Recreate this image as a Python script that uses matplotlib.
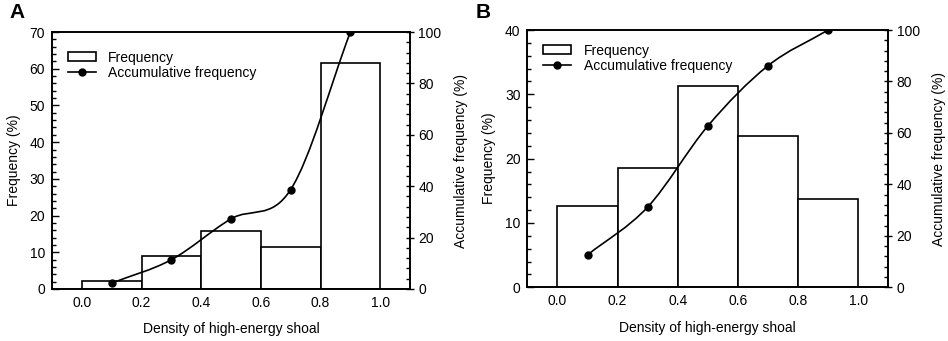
import numpy as np
import matplotlib
matplotlib.use("Agg")
import matplotlib.pyplot as plt
from matplotlib.path import Path
from matplotlib.patches import PathPatch, Rectangle
from matplotlib.lines import Line2D
from matplotlib.ticker import MultipleLocator

plt.rcParams['font.family'] = ['Liberation Sans', 'DejaVu Sans']

# bin edges and centres
bin_left = [0.0, 0.2, 0.4, 0.6, 0.8]
bin_mid = [0.1, 0.3, 0.5, 0.7, 0.9]

# panel A
freq_a = [2.2, 9.1, 15.9, 11.4, 61.5]
cum_a = [2.3, 11.4, 27.3, 38.7, 100.0]
# panel B
freq_b = [12.7, 18.6, 31.3, 23.5, 13.7]
cum_b = [12.6, 31.2, 62.7, 86.1, 100.0]

xlabel = 'Density of high-energy shoal'
ylabel_l = 'Frequency (%)'
ylabel_r = 'Accumulative frequency (%)'
FS = 10


def smooth_path(x, y):
    """Catmull-Rom style bezier through the points."""
    x = np.asarray(x, float)
    y = np.asarray(y, float)
    n = len(x)
    m = np.zeros(n)
    for i in range(n):
        if i == 0:
            m[i] = (y[1] - y[0]) / (x[1] - x[0])
        elif i == n - 1:
            m[i] = (y[-1] - y[-2]) / (x[-1] - x[-2])
        else:
            m[i] = (y[i + 1] - y[i - 1]) / (x[i + 1] - x[i - 1])
    verts = [(x[0], y[0])]
    codes = [Path.MOVETO]
    for i in range(n - 1):
        h = x[i + 1] - x[i]
        verts += [(x[i] + h / 3, y[i] + m[i] * h / 3),
                  (x[i + 1] - h / 3, y[i + 1] - m[i + 1] * h / 3),
                  (x[i + 1], y[i + 1])]
        codes += [Path.CURVE4] * 3
    return Path(verts, codes)


def panel(rect, freq, cum, ymax, ymajor, letter, letter_x, leg_y):
    ax = fig.add_axes(rect)
    ax.bar(bin_left, freq, width=0.2, align='edge', facecolor='white',
           edgecolor='black', linewidth=1.2, zorder=2)
    ax.set_xlim(-0.1, 1.1)
    ax.set_ylim(0, ymax)
    ax.set_xticks([0.0, 0.2, 0.4, 0.6, 0.8, 1.0])
    ax.set_xticklabels(['0.0', '0.2', '0.4', '0.6', '0.8', '1.0'])
    ax.yaxis.set_major_locator(MultipleLocator(ymajor))
    ax.yaxis.set_minor_locator(MultipleLocator(2))
    ax.tick_params(axis='x', length=0, pad=5, labelsize=FS)
    ax.tick_params(axis='y', which='major', direction='in', length=5,
                   width=1, labelsize=FS, pad=5)
    ax.tick_params(axis='y', which='minor', direction='in', length=3, width=1)
    for s in ax.spines.values():
        s.set_linewidth(1.2)
    ax.set_xlabel(xlabel, fontsize=FS, labelpad=9)
    ax.set_ylabel(ylabel_l, fontsize=FS, labelpad=6)

    ax2 = ax.twinx()
    ax2.set_ylim(0, 100)
    ax2.yaxis.set_major_locator(MultipleLocator(20))
    ax2.yaxis.set_minor_locator(MultipleLocator(4))
    ax2.tick_params(axis='y', which='major', direction='inout', length=6,
                    width=1, labelsize=FS, pad=3)
    ax2.tick_params(axis='y', which='minor', direction='in', length=3, width=1)
    ax2.set_ylabel(ylabel_r, fontsize=FS, labelpad=9)
    ax2.add_patch(PathPatch(smooth_path(bin_mid, cum), facecolor='none',
                            edgecolor='black', linewidth=1.2, zorder=3))
    ax2.plot(bin_mid, cum, 'o', color='black', markersize=5, zorder=4)
    for s in ax2.spines.values():
        s.set_linewidth(1.2)

    handles = [Rectangle((0, 0), 1, 1, facecolor='white', edgecolor='black',
                         linewidth=1.2),
               Line2D([], [], color='black', marker='o', markersize=5,
                      linewidth=1.2)]
    ax2.legend(handles, ['Frequency', 'Accumulative frequency'],
               loc='upper left', bbox_to_anchor=(0.017, leg_y), frameon=False,
               fontsize=FS, handlelength=2.0, handleheight=0.6,
               labelspacing=0.1, borderpad=0.2, handletextpad=0.9)
    fig.text(letter_x, 0.962, letter, fontsize=15, fontweight='bold',
             va='center', ha='left')
    return ax, ax2


fig = plt.figure(figsize=(9.48, 3.41), dpi=100)
panel([0.0549, 0.1525, 0.3776, 0.7535], freq_a, cum_a, 70, 10, 'A', 0.010, 0.966)
panel([0.5563, 0.1575, 0.3807, 0.7545], freq_b, cum_b, 40, 10, 'B', 0.502, 0.985)
fig.savefig('out.png', dpi=100)
